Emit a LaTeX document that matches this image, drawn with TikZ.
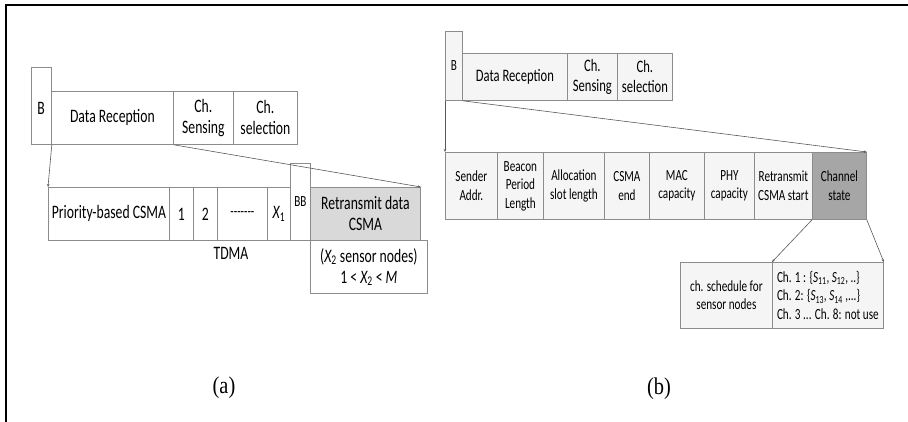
\documentclass[tikz,border=0pt]{standalone}
\usepackage{fontspec}
\setmainfont{Carlito}[FakeStretch=0.72]
\newfontfamily\capfont{Liberation Serif}[FakeStretch=0.85]
\usetikzlibrary{arrows.meta}
\tikzset{
  cell/.style={draw=black!45, line width=0.8pt, anchor=north west, inner sep=0pt, align=center},
  big/.style={font=\fontsize{19}{21}\selectfont},
  mid/.style={font=\fontsize{17.5}{20}\selectfont},
  small/.style={font=\fontsize{15.5}{18.5}\selectfont},
  pale/.style={fill=black!4},
  caption/.style={font=\capfont\fontsize{24}{26}\selectfont},
  zoomline/.style={draw=black!65, line width=0.6pt, -{Stealth[length=3pt,width=2.5pt]}},
}
\begin{document}
\begin{tikzpicture}[x=1pt,y=-1pt]
\useasboundingbox (0,0) rectangle (908,422);
\coordinate (f0) at (6,422);
\coordinate (f1) at (6,5);
\coordinate (f2) at (908,5);
\draw[line width=1.6pt] (f0)--(f1)--(f2);

% (a)
\node[cell, minimum width=20, minimum height=77] (aB) at (31,67) {};
\node[big] (aBt) at (41,108) {B};
\node[cell, big, minimum width=122, minimum height=53] (aDR) at (51,91) {Data Reception};
\node[cell, big, minimum width=60, minimum height=53] (aCS) at (173,91) {Ch.\\Sensing};
\node[cell, big, minimum width=64, minimum height=53] (aCL) at (233,91) {Ch.\\selection};

\node[cell, big, minimum width=121, minimum height=53] (aPC) at (48,187) {Priority-based CSMA};
\node[cell, big, minimum width=24, minimum height=53] (aS1) at (169,187) {1};
\node[cell, big, minimum width=24, minimum height=53] (aS2) at (193,187) {2};
\node[cell, small, minimum width=50, minimum height=53] (aSd) at (217,187) {-{}-{}-{}-{}-{}-{}-};
\node[cell, big, minimum width=23, minimum height=53] (aSx) at (267,187) {\itshape X\textsubscript{\upshape 1}};
\node[cell, small, minimum width=20, minimum height=77] (aBB) at (290,163) {BB};
\node[cell, big, fill=black!15, minimum width=110, minimum height=53] (aRD) at (310,187) {Retransmit data\\CSMA};
\node[cell, big, minimum width=117, minimum height=53] (aX2) at (310,240) {({\itshape X}\textsubscript{2} sensor nodes)\\1 < {\itshape X}\textsubscript{2} < {\itshape M}};
\node[big] (aTD) at (231,253) {TDMA};
\node[caption] (capa) at (224,388) {(a)};

\draw[zoomline] (aB.south east) -- (aPC.north west);
\draw[zoomline] (aDR.south east) -- (aRD.north east);

% (b)
\node[cell, small, pale, minimum width=17, minimum height=69] (bB) at (445,31) {B};
\node[cell, mid, pale, minimum width=105, minimum height=47] (bDR) at (462,53) {Data Reception};
\node[cell, mid, pale, minimum width=50, minimum height=47] (bCS) at (567,53) {Ch.\\Sensing};
\node[cell, mid, pale, minimum width=55, minimum height=47] (bCL) at (617,53) {Ch.\\selection};

\node[cell, small, pale, minimum width=52, minimum height=67] (bSA) at (445,152) {Sender\\Addr.};
\node[cell, small, pale, minimum width=46, minimum height=67] (bBP) at (497,152) {Beacon\\Period\\Length};
\node[cell, small, pale, minimum width=61, minimum height=67] (bAS) at (543,152) {Allocation\\slot length};
\node[cell, small, pale, minimum width=45, minimum height=67] (bCE) at (604,152) {CSMA\\end};
\node[cell, small, pale, minimum width=55, minimum height=67] (bMC) at (649,152) {MAC\\capacity};
\node[cell, small, pale, minimum width=50, minimum height=67] (bPC) at (704,152) {PHY\\capacity};
\node[cell, small, pale, minimum width=58, minimum height=67] (bRS) at (754,152) {Retransmit\\CSMA start};
\node[cell, small, fill=black!35, minimum width=54, minimum height=67] (bCh) at (812,152) {Channel\\state};

\node[cell, small, pale, minimum width=92, minimum height=66] (bSc) at (680,262) {ch. schedule for\\sensor nodes};
\node[cell, small, pale, align=left, minimum width=111, minimum height=66] (bCl) at (772,262)
  {Ch. 1 : \{{\itshape S}\textsubscript{11}, {\itshape S}\textsubscript{12}, ..\}\\
   Ch. 2: \{{\itshape S}\textsubscript{13}, {\itshape S}\textsubscript{14} ,...\}\\
   Ch. 3 ... Ch. 8: not use};
\node[caption] (capb) at (659,389) {(b)};

\draw[zoomline] (bB.south west) -- (bSA.north west);
\draw[zoomline] (bB.south east) -- (bCh.north east);
\draw[zoomline] (bCh.south west) -- (bCl.north west);
\draw[zoomline] (bCh.south east) -- (bCl.north east);
\end{tikzpicture}
\end{document}
